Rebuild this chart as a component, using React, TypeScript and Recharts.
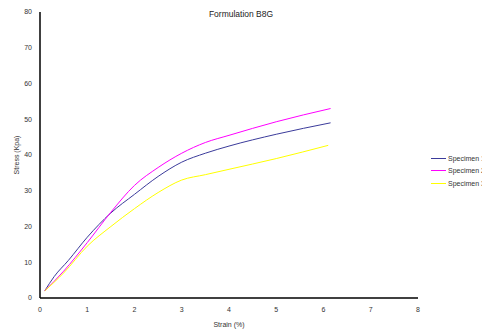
import { LineChart, Line, XAxis, YAxis } from 'recharts'

const xTicks = [0, 1, 2, 3, 4, 5, 6, 7, 8]
const yTicks = [0, 10, 20, 30, 40, 50, 60, 70, 80]

const specimen1 = [
  { strain: 0.1, stress: 2 },
  { strain: 0.3, stress: 6 },
  { strain: 0.6, stress: 10.5 },
  { strain: 1, stress: 17 },
  { strain: 1.5, stress: 23.8 },
  { strain: 2, stress: 29 },
  { strain: 2.5, stress: 34 },
  { strain: 3, stress: 38 },
  { strain: 3.5, stress: 40.5 },
  { strain: 4, stress: 42.5 },
  { strain: 5, stress: 45.8 },
  { strain: 6.15, stress: 49 },
]

const specimen2 = [
  { strain: 0.1, stress: 2 },
  { strain: 0.5, stress: 7.5 },
  { strain: 1, stress: 15.5 },
  { strain: 1.5, stress: 24 },
  { strain: 2, stress: 31.5 },
  { strain: 2.5, stress: 36.5 },
  { strain: 3, stress: 40.5 },
  { strain: 3.5, stress: 43.5 },
  { strain: 4, stress: 45.5 },
  { strain: 5, stress: 49.3 },
  { strain: 6.15, stress: 53 },
]

const specimen3 = [
  { strain: 0.1, stress: 2 },
  { strain: 0.5, stress: 7 },
  { strain: 1, stress: 14.5 },
  { strain: 1.5, stress: 20 },
  { strain: 2, stress: 25 },
  { strain: 2.5, stress: 29.5 },
  { strain: 3, stress: 33 },
  { strain: 3.5, stress: 34.5 },
  { strain: 4, stress: 36 },
  { strain: 5, stress: 39 },
  { strain: 6.1, stress: 42.7 },
]

const series = [
  { name: 'Specimen 1', data: specimen1, color: '#3b3b9b' },
  { name: 'Specimen 2', data: specimen2, color: '#ff00ff' },
  { name: 'Specimen 3', data: specimen3, color: '#ffff00' },
]

const font = '"Liberation Sans", Arial, sans-serif'
const tickStyle = { fontSize: 7, fill: '#333', fontFamily: font }

export default function App() {
  return (
    <div style={{ position: 'absolute', left: 0, top: 0, width: 482, height: 331, overflow: 'hidden', background: '#fff' }}>
      <div style={{ position: 'absolute', left: 0, width: 482, top: 9, textAlign: 'center', fontFamily: font, fontSize: 8.5, color: '#222', zIndex: 2 }}>
        Formulation B8G
      </div>
      {/* legend, cut at the right edge like the original export */}
      <div style={{ position: 'absolute', left: 431, top: 152, fontFamily: font, fontSize: 7, color: '#333', zIndex: 2 }}>
        {series.map(s => (
          <div key={s.name} style={{ display: 'flex', alignItems: 'center', height: 12.5, whiteSpace: 'nowrap' }}>
            <svg width={15} height={3} style={{ marginRight: 2 }}>
              <line x1={0} y1={1.5} x2={15} y2={1.5} stroke={s.color} strokeWidth={1} />
            </svg>
            {s.name}
          </div>
        ))}
      </div>
      <LineChart width={482} height={331} margin={{ top: 12, right: 64, left: 0, bottom: 0 }}>
        <XAxis
          type="number" dataKey="strain" domain={[0, 8]} ticks={xTicks}
          allowDuplicatedCategory={false}
          tick={tickStyle} tickSize={0} tickMargin={9} height={33}
          axisLine={{ stroke: '#000', strokeWidth: 1.5 }}
          label={{ value: 'Strain (%)', position: 'insideBottom', offset: 4, style: { fontSize: 7, fill: '#333', fontFamily: font } }}
        />
        <YAxis
          type="number" dataKey="stress" domain={[0, 80]} ticks={yTicks}
          tick={tickStyle} tickSize={0} tickMargin={8} width={40}
          axisLine={{ stroke: '#000', strokeWidth: 1.5 }}
          label={{ value: 'Stress (Kpa)', angle: -90, position: 'insideLeft', offset: 17, style: { fontSize: 7, fill: '#333', fontFamily: font, textAnchor: 'middle' } }}
        />
        {series.map(s => (
          <Line
            key={s.name} name={s.name} data={s.data} dataKey="stress"
            type="monotone" stroke={s.color} strokeWidth={1} dot={false}
            isAnimationActive={false}
          />
        ))}
      </LineChart>
    </div>
  )
}
